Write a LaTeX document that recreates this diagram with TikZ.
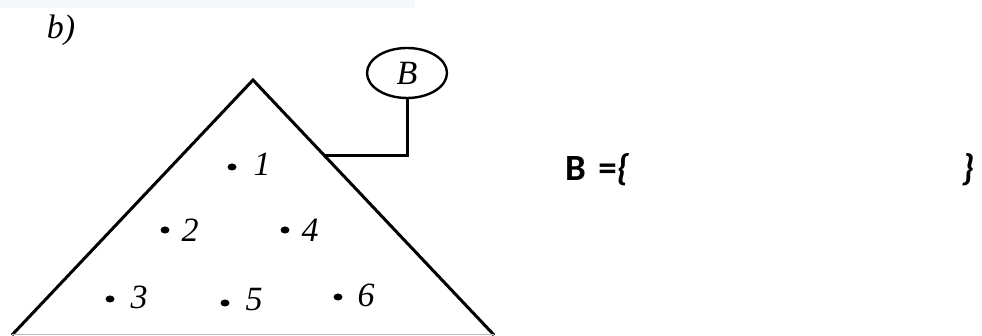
\documentclass[tikz,border=0pt]{standalone}
\usepackage{fontspec}
\setmainfont{Liberation Serif}
\newfontfamily\calfont{Carlito}
\usetikzlibrary{shapes.geometric}
\definecolor{bandgray}{RGB}{246,247,250}
\definecolor{basegray}{RGB}{185,185,185}
\begin{document}
\begin{tikzpicture}[x=1pt,y=-1pt,
  ptdot/.style={ellipse,fill=black,inner sep=0pt,minimum width=9pt,minimum height=7pt},
  ptlabel/.style={inner sep=0pt,font=\fontsize{34}{36}\selectfont\itshape},
  edge/.style={line width=3pt,line join=miter}]
\useasboundingbox (0,0) rectangle (982,336);
\fill[bandgray] (0,0) rectangle (415,8);
% title
\node[ptlabel,anchor=center] (title) at (61,30) {b)};
% triangle
\coordinate (apex) at (253,80);
\coordinate (bl) at (12,335);
\coordinate (br) at (494,335);
\draw[edge] (bl) -- (apex) -- (br);
\draw[basegray,line width=1pt] (bl) -- (br);
% B node
\node[draw,ellipse,line width=2.4pt,minimum width=80pt,minimum height=50pt,inner sep=0pt,
  font=\fontsize{34}{36}\selectfont\itshape] (B) at (407,73) {B};
\coordinate (join) at (325,156);
\draw[line width=3pt] (B.south) |- (join);
% points
\node[ptdot] (d1) at (232,167) {};
\node[ptlabel] (l1) at (262,164) {1};
\node[ptdot] (d2) at (165,230) {};
\node[ptlabel] (l2) at (190,230) {2};
\node[ptdot] (d4) at (285,230) {};
\node[ptlabel] (l4) at (310,230) {4};
\node[ptdot] (d3) at (110,299) {};
\node[ptlabel] (l3) at (139,297) {3};
\node[ptdot] (d5) at (225,303) {};
\node[ptlabel] (l5) at (254,300) {5};
\node[ptdot] (d6) at (338,297) {};
\node[ptlabel] (l6) at (366,295) {6};
% set expression
\node[anchor=west,inner sep=0pt,font=\calfont\fontsize{37}{40}\selectfont\bfseries] (expr) at (565,170) {B\,\,=\textit{\{}};
\node[inner sep=0pt,font=\calfont\fontsize{37}{40}\selectfont\bfseries\itshape] (close) at (968,170) {\}};
\end{tikzpicture}
\end{document}
